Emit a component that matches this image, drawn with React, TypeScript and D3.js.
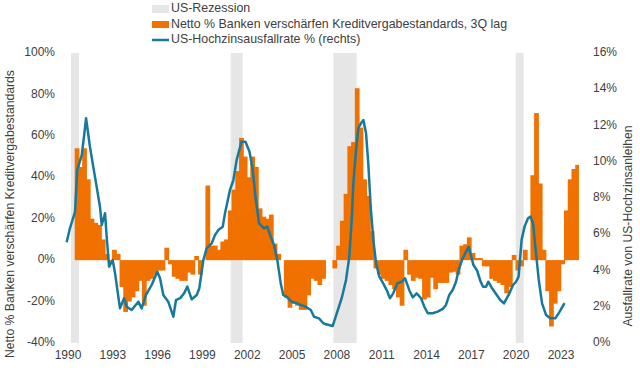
import React from "react";
import * as d3 from "d3";

// ---------- data ----------
const xTickYears = [1990, 1993, 1996, 1999, 2002, 2005, 2008, 2011, 2014, 2017, 2020, 2023];
const leftTicks = [100, 80, 60, 40, 20, 0, -20, -40];
const rightTicks = [16, 14, 12, 10, 8, 6, 4, 2, 0];

const recessionStart = [1990.4, 2001.09, 2007.96, 2020.17];
const recessionEnd = [1990.94, 2001.89, 2009.52, 2020.7];

// Net % of banks tightening lending standards (3Q lag), quarterly, first quarter begins at barStartYear
const barStartYear = 1990.65;
const tighteningValues = [
  54, 45, 54, 39, 20, 18, 17, 10, 3, -2,
  5, 3, -13, -25, -20, -18, -15, -10, -22, -10,
  -9, -7, -5, -5, 6, -2, -8, -9, -10, -10,
  -6, -7, 2, -7, 0, 36, 7, 7, 5, 9,
  10, 24, 34, 43, 59, 50, 40, 50, 45, 25,
  21, 20, 22, 8, 3, 0, -18, -23, -21, -22,
  -24, -24, -17, -9, -10, -12, -9, 0, 0, -4,
  7, 19, 32, 55, 57, 83, 64, 39, 31, 14,
  -4, -7, -9, -10, -12, -14, -18, -22, 5, -7,
  -10, -8.5, -9, -19, -18, -8.5, -14, -11, -11, -11,
  -6, -5.6, -7, 7, 7.7, 11, 3.5, 1, 1, -3,
  -3, -9, -10, -11, -12, -16, -13, 2.5, -5, -3,
  5, 0, 41, 71, 37, 5, -15, -32, -21, -15,
  -2, 24, 39, 44, 46,
];

// US high-yield default rate (%), right axis
const hyDates = [
  1990.11, 1990.33, 1990.67, 1990.82, 1991.12, 1991.27, 1991.41, 1991.67, 1991.89, 1992.12,
  1992.34, 1992.46, 1992.68, 1992.79, 1992.95, 1993.19, 1993.35, 1993.68, 1993.95, 1994.13,
  1994.46, 1994.91, 1995.13, 1995.42, 1995.8, 1996.18, 1996.36, 1996.58, 1996.91, 1997.25,
  1997.43, 1997.7, 1997.97, 1998.19, 1998.48, 1998.82, 1998.99, 1999.26, 1999.48, 1999.82,
  2000.04, 2000.26, 2000.56, 2000.71, 2001.04, 2001.27, 2001.49, 2001.81, 2002.08, 2002.35,
  2002.54, 2002.76, 2002.99, 2003.32, 2003.54, 2003.77, 2003.99, 2004.21, 2004.44, 2004.61,
  2004.88, 2005.15, 2005.44, 2005.78, 2006.11, 2006.45, 2006.67, 2007.0, 2007.29, 2007.4,
  2007.92, 2008.19, 2008.52, 2008.81, 2009.03, 2009.19, 2009.3, 2009.48, 2009.63, 2009.81,
  2009.97, 2010.15, 2010.3, 2010.46, 2010.64, 2010.82, 2011.04, 2011.3, 2011.53, 2011.75,
  2011.97, 2012.24, 2012.54, 2012.76, 2013.05, 2013.27, 2013.54, 2013.83, 2014.05, 2014.28,
  2014.61, 2014.95, 2015.28, 2015.5, 2015.72, 2015.95, 2016.17, 2016.35, 2016.57, 2016.79,
  2017.02, 2017.34, 2017.58, 2017.81, 2017.98, 2018.18, 2018.33, 2018.56, 2018.9, 2019.13,
  2019.38, 2019.69, 2019.99, 2020.19, 2020.36, 2020.56, 2020.76, 2020.99, 2021.16, 2021.33,
  2021.48, 2021.71, 2021.93, 2022.2, 2022.48, 2022.82, 2023.11, 2023.43,
];
const hyRates = [
  5.56, 6.33, 7.24, 9.54, 10.37, 11.38, 12.4, 10.83, 9.73, 8.62,
  7.52, 6.51, 7.16, 5.86, 4.21, 4.58, 3.85, 1.91, 2.47, 2.0,
  1.82, 2.28, 1.91, 2.65, 3.2, 3.93, 3.57, 2.65, 2.28, 1.45,
  2.37, 2.47, 2.74, 3.11, 2.41, 2.65, 3.02, 4.58, 5.22, 5.5,
  5.96, 6.23, 6.42, 7.16, 8.44, 8.99, 10.1, 11.1, 11.1, 10.55,
  9.7, 8.0, 6.6, 6.33, 6.42, 5.86, 5.41, 4.58, 3.29, 2.65,
  2.52, 2.28, 2.22, 2.1, 2.0, 1.82, 1.45, 1.36, 1.09, 1.05,
  0.94, 1.64, 2.47, 3.48, 4.76, 6.79, 8.81, 10.65, 11.85, 12.12,
  12.3, 11.57, 9.91, 7.52, 5.68, 4.4, 3.66, 3.29, 2.92, 2.47,
  2.74, 3.29, 3.38, 3.57, 2.9, 2.52, 2.74, 2.47, 2.0, 1.64,
  1.64, 1.73, 1.88, 2.1, 2.65, 2.92, 3.38, 4.03, 4.58, 4.95,
  5.31, 4.3, 4.0, 3.4, 3.1, 3.1, 3.38, 3.05, 2.65, 2.37,
  2.19, 2.65, 3.2, 3.38, 3.66, 5.68, 6.42, 6.88, 6.97, 6.6,
  5.31, 3.48, 2.19, 1.54, 1.36, 1.36, 1.73, 2.2,
];

const legendLabels = [
  "US-Rezession",
  "Netto % Banken verschärfen Kreditvergabestandards, 3Q lag",
  "US-Hochzinsausfallrate % (rechts)",
];
const leftTitle = "Netto % Banken verschärfen Kreditvergabestandards";
const rightTitle = "Ausfallrate von US-Hochzinsanleihen";

// ---------- styles ----------
const W = 640;
const H = 383;
const ORANGE = "#F07000";
const TEAL = "#17799C";
const GRAY = "#E6E6E6";
const TEXT = "#404040";
const FONT = "'Liberation Sans', Arial, sans-serif";

export default function App() {
  const plotTop = 53;
  const plotBottom = 343;
  const x = d3.scaleLinear().domain([1990, 2024.47]).range([65, 580]);
  const yL = d3.scaleLinear().domain([-40, 100]).range([plotBottom, plotTop]);
  const yR = d3.scaleLinear().domain([0, 16]).range([plotBottom, plotTop]);

  const bars = tighteningValues.map((v, i) => {
    const t0 = barStartYear + i * 0.25;
    const t1 = t0 + 0.25;
    return { t0, t1, v, last: i === tighteningValues.length - 1 };
  });

  const line = d3
    .line<number>()
    .x((_, i) => x(hyDates[i]))
    .y((d) => yR(d))
    .curve(d3.curveLinear);

  return (
    <svg
      width={W}
      height={H}
      style={{ position: "absolute", left: 0, top: 0, background: "#fff" }}
      fontFamily={FONT}
    >
      {/* recessions */}
      {recessionStart.map((s, i) => (
        <rect
          key={"r" + i}
          x={x(s)}
          y={plotTop}
          width={x(recessionEnd[i]) - x(s)}
          height={plotBottom - plotTop}
          fill={GRAY}
        />
      ))}
      {/* bars */}
      {bars.map((b, i) => (
        <rect
          key={"b" + i}
          x={x(b.t0)}
          y={Math.min(yL(b.v), yL(0))}
          width={x(b.t1) - x(b.t0) + (b.last ? 0 : 1)}
          height={Math.abs(yL(b.v) - yL(0))}
          fill={ORANGE}
        />
      ))}
      {/* line */}
      <path d={line(hyRates) || ""} fill="none" stroke={TEAL} strokeWidth={2.5} strokeLinejoin="round" />

      {/* left ticks */}
      {leftTicks.map((t) => (
        <text key={"l" + t} x={55} y={yL(t)} textAnchor="end" dominantBaseline="middle" fontSize={12} fill={TEXT}>
          {t}%
        </text>
      ))}
      {/* right ticks */}
      {rightTicks.map((t) => (
        <text key={"rt" + t} x={593} y={yR(t)} textAnchor="start" dominantBaseline="middle" fontSize={12} fill={TEXT}>
          {t}%
        </text>
      ))}
      {/* x ticks */}
      {xTickYears.map((yv) => (
        <text key={"x" + yv} x={x(yv + 0.2)} y={356} textAnchor="middle" dominantBaseline="middle" fontSize={12} fill={TEXT}>
          {yv}
        </text>
      ))}
      {/* axis titles */}
      <text
        transform={`translate(11, 214) rotate(-90)`}
        textAnchor="middle"
        dominantBaseline="middle"
        fontSize={12.2}
        fill={TEXT}
      >
        {leftTitle}
      </text>
      <text
        transform={`translate(629, 226) rotate(-90)`}
        textAnchor="middle"
        dominantBaseline="middle"
        fontSize={12.2}
        fill={TEXT}
      >
        {rightTitle}
      </text>

      {/* legend */}
      <rect x={152} y={5} width={17} height={8} fill={GRAY} />
      <rect x={152} y={21} width={17} height={7} fill={ORANGE} />
      <line x1={152} x2={169} y1={40} y2={40} stroke={TEAL} strokeWidth={2.5} />
      {legendLabels.map((l, i) => (
        <text key={"lg" + i} x={171} y={9 + i * 15.5} dominantBaseline="middle" fontSize={12.4} fill={TEXT}>
          {l}
        </text>
      ))}
    </svg>
  );
}
